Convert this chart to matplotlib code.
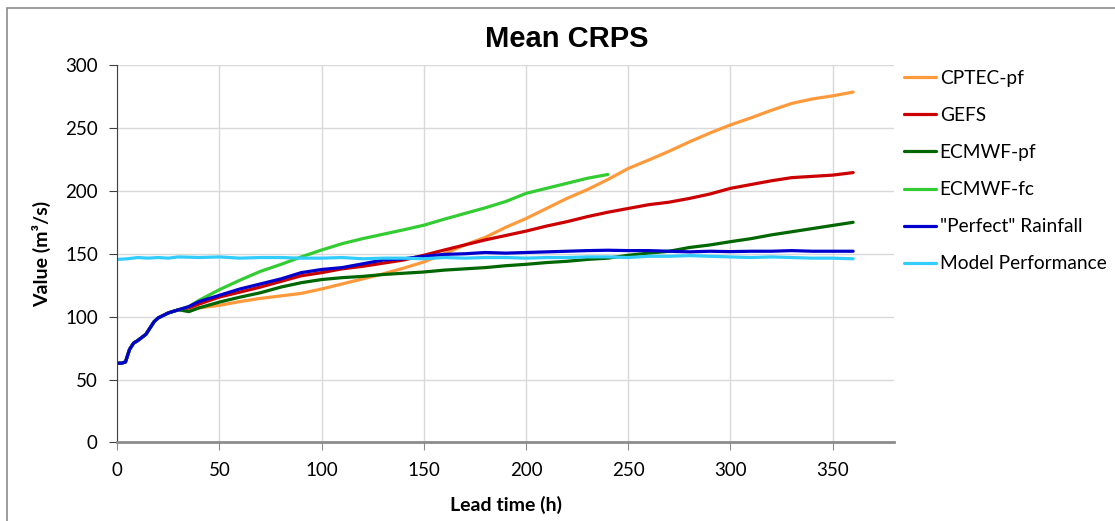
import matplotlib
matplotlib.use('Agg')
import matplotlib.pyplot as plt
from matplotlib.patches import Rectangle

# lead times (h) and values (m3/s)
hours_early = [0, 2, 4, 6, 8, 10, 12, 14, 16, 18, 20, 25, 30]
common_early = [63, 63, 64, 74, 79, 81, 83.5, 86, 91, 96, 99, 103, 105.5]

hours_late = [35, 40] + list(range(50, 370, 10))

cptec_pf = [105, 107, 109, 112, 114.5, 116.5, 118.5, 122, 126, 130, 134, 138.5,
            143.5, 150, 157, 163, 171, 178, 186, 194, 201, 209, 217.8, 224.5,
            231.5, 239, 246, 252.4, 258, 264, 269.5, 273, 275.5, 278.5]
gefs = [107, 110, 115.6, 119.5, 123.5, 128, 132.5, 135, 138, 140, 142.5, 145,
        148.8, 153, 157, 161, 164.5, 168, 172, 175.5, 179.5, 183, 186, 189,
        191, 194, 197.5, 202, 205, 208, 210.5, 211.5, 212.5, 214.5]
ecmwf_pf = [104, 107, 111.6, 115.5, 119, 123.5, 127, 129.5, 131, 132, 133.5,
            134.5, 135.5, 137, 138, 139, 140.5, 141.6, 143, 144, 145.5, 146.5,
            148.8, 150.5, 152, 155, 157, 159.6, 162, 165, 167.5, 170, 172.5, 175]
ecmwf_fc = [108, 113, 121.5, 129, 136, 141.5, 147.5, 153, 158, 162, 165.5, 169,
            172.7, 177.5, 182, 186.5, 191.5, 198, 202, 206, 210, 213]
perfect = [108, 112, 117, 122, 126, 130, 135, 137.5, 139, 142, 145, 146, 148,
           149.5, 150, 151, 150.5, 151, 151.5, 152, 152.5, 152.8, 152.5, 152.5,
           152, 151.5, 152, 151.7, 152, 152, 152.5, 152, 152, 152]

hours_model = [0, 5, 10, 15, 20, 25, 30, 40] + list(range(50, 370, 10))
model_perf = [145.5, 146, 147, 146.5, 147, 146.5, 147.5, 147, 147.5, 146.5, 147,
              147, 146.5, 146.5, 147, 146, 146.5, 146.5, 146, 147, 146.5, 147,
              147, 146.5, 147, 147, 147.5, 147.5, 147, 148, 148, 148.5, 148,
              147.5, 147, 147.5, 147, 146.5, 146.5, 146]

series = [
    ('CPTEC-pf', cptec_pf, '#FF9A3C'),
    ('GEFS', gefs, '#CC0000'),
    ('ECMWF-pf', ecmwf_pf, '#006600'),
    ('ECMWF-fc', ecmwf_fc, '#33CC33'),
    ('"Perfect" Rainfall', perfect, '#0000CC'),
]

FONT = ['Lato', 'DejaVu Sans']
plt.rcParams['font.family'] = FONT

fig = plt.figure(figsize=(11.15, 5.21), dpi=100)
ax = fig.add_axes([0.1052, 0.1507, 0.6966, 0.7245])

for name, vals, color in series:
    x = hours_early + hours_late[:len(vals)]
    y = common_early + vals
    ax.plot(x, y, color=color, lw=2.3, label=name, solid_capstyle='round')
ax.plot(hours_model, model_perf, color='#33CCFF', lw=2.3,
        label='Model Performance', solid_capstyle='round')

ax.set_xlim(0, 380)
ax.set_ylim(0, 300)
ax.set_xticks(range(0, 400, 50))
ax.set_yticks(range(0, 350, 50))
ax.grid(True, color='#d9d9d9', lw=1)
ax.set_axisbelow(True)
for s in ['top', 'right']:
    ax.spines[s].set_visible(False)
ax.spines['left'].set_color('#404040')
ax.spines['bottom'].set_color('#8c8c8c')
ax.spines['bottom'].set_linewidth(2)
ax.tick_params(axis='y', direction='out', length=6, color='#404040',
               labelsize=13.5, pad=8)
ax.tick_params(axis='x', direction='out', length=6, color='#8c8c8c',
               labelsize=13.5, pad=8)

ax.set_xlabel('Lead time (h)', fontsize=14, fontweight='bold', labelpad=12)
ax.set_ylabel('Value (m³/s)', fontsize=14, fontweight='bold', labelpad=10)

fig.text(0.508, 0.925, 'Mean CRPS', ha='center', va='center', fontsize=21,
         fontweight='bold', family=['Liberation Sans Narrow', 'Liberation Sans'])

fig.legend(loc='upper left', bbox_to_anchor=(0.795, 0.899), frameon=False,
           fontsize=13.8, handlelength=1.7, handletextpad=0.18,
           labelspacing=1.05)

fig.patches.append(Rectangle((7 / 1115, -0.05), 1.2, 1 - 8 / 521 + 0.05,
                             transform=fig.transFigure, fill=False,
                             edgecolor='#8c8c8c', lw=1.2))

fig.savefig('out.png', dpi=100)
